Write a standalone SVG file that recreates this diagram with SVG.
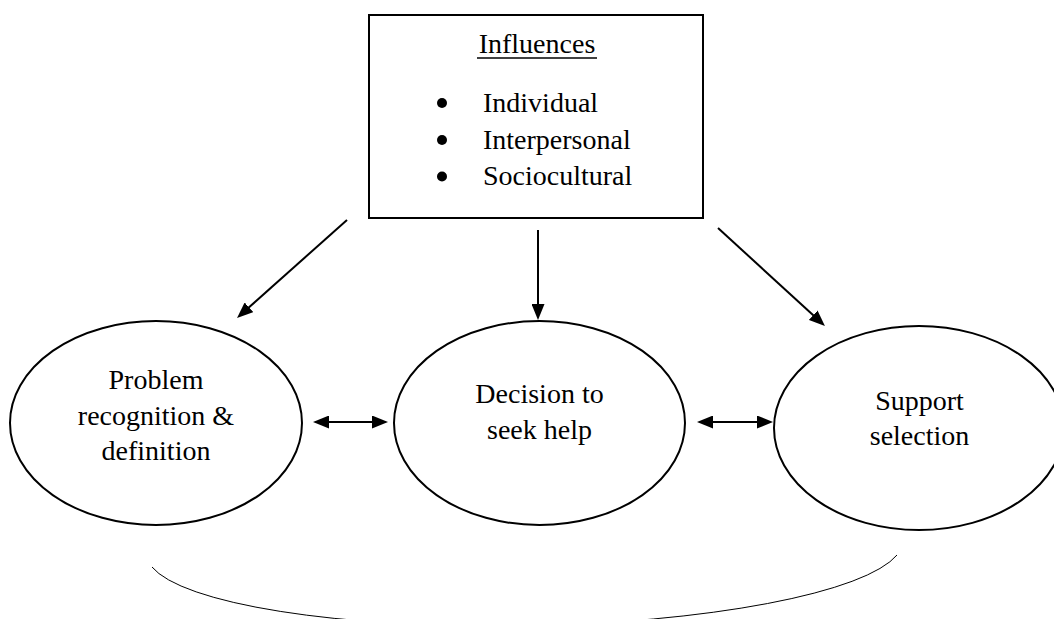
<svg xmlns="http://www.w3.org/2000/svg" width="1054" height="619" viewBox="0 0 1054 619">
<style>
  .t { font-family: "Liberation Serif", "Times New Roman", serif; font-size: 28px; fill: #000; }
  .c { text-anchor: middle; }
  .shape { fill: #fff; stroke: #000; stroke-width: 2; }
  .arr { stroke: #000; stroke-width: 2; fill: none; }
</style>
<defs>
  <marker id="ah" markerUnits="userSpaceOnUse" viewBox="0 0 16 13" markerWidth="16" markerHeight="13" refX="12" refY="6.5" orient="auto-start-reverse">
    <path d="M0,0 L16,6.5 L0,13 z" fill="#000"/>
  </marker>
</defs>
<rect width="1054" height="619" fill="#fff"/>

<g id="influences">
  <rect class="shape" x="369" y="15" width="334" height="203"/>
  <text class="t c" x="537" y="53">Influences</text>
  <line x1="477" y1="58" x2="597" y2="58" stroke="#000" stroke-width="1.5"/>
  <circle cx="442" cy="103" r="5" fill="#000"/>
  <circle cx="442" cy="140" r="5" fill="#000"/>
  <circle cx="442" cy="176.5" r="5" fill="#000"/>
  <text class="t" x="483" y="112">Individual</text>
  <text class="t" x="483" y="148.5">Interpersonal</text>
  <text class="t" x="483" y="185">Sociocultural</text>
</g>

<g id="problem">
  <ellipse class="shape" cx="156" cy="423" rx="146" ry="102"/>
  <text class="t c" x="156" y="389">Problem</text>
  <text class="t c" x="156" y="425">recognition &amp;</text>
  <text class="t c" x="156" y="460">definition</text>
</g>

<g id="decision">
  <ellipse class="shape" cx="539.5" cy="423" rx="145.5" ry="102"/>
  <text class="t c" x="539.5" y="403">Decision to</text>
  <text class="t c" x="539.5" y="439">seek help</text>
</g>

<g id="support">
  <ellipse class="shape" cx="919" cy="428" rx="145" ry="102"/>
  <text class="t c" x="919.5" y="410">Support</text>
  <text class="t c" x="919.5" y="445">selection</text>
</g>

<g id="connectors">
  <line class="arr" x1="347" y1="220" x2="240" y2="315.3" marker-end="url(#ah)"/>
  <line class="arr" x1="538" y1="230" x2="538" y2="316" marker-end="url(#ah)"/>
  <line class="arr" x1="718" y1="228" x2="822" y2="323.3" marker-end="url(#ah)"/>
  <line class="arr" x1="317" y1="422" x2="384" y2="422" marker-start="url(#ah)" marker-end="url(#ah)"/>
  <line class="arr" x1="701" y1="422" x2="769" y2="422" marker-start="url(#ah)" marker-end="url(#ah)"/>
  <path d="M152,567 A378 78 -1 0 0 897,555" fill="none" stroke="#000" stroke-width="1"/>
</g>
</svg>
